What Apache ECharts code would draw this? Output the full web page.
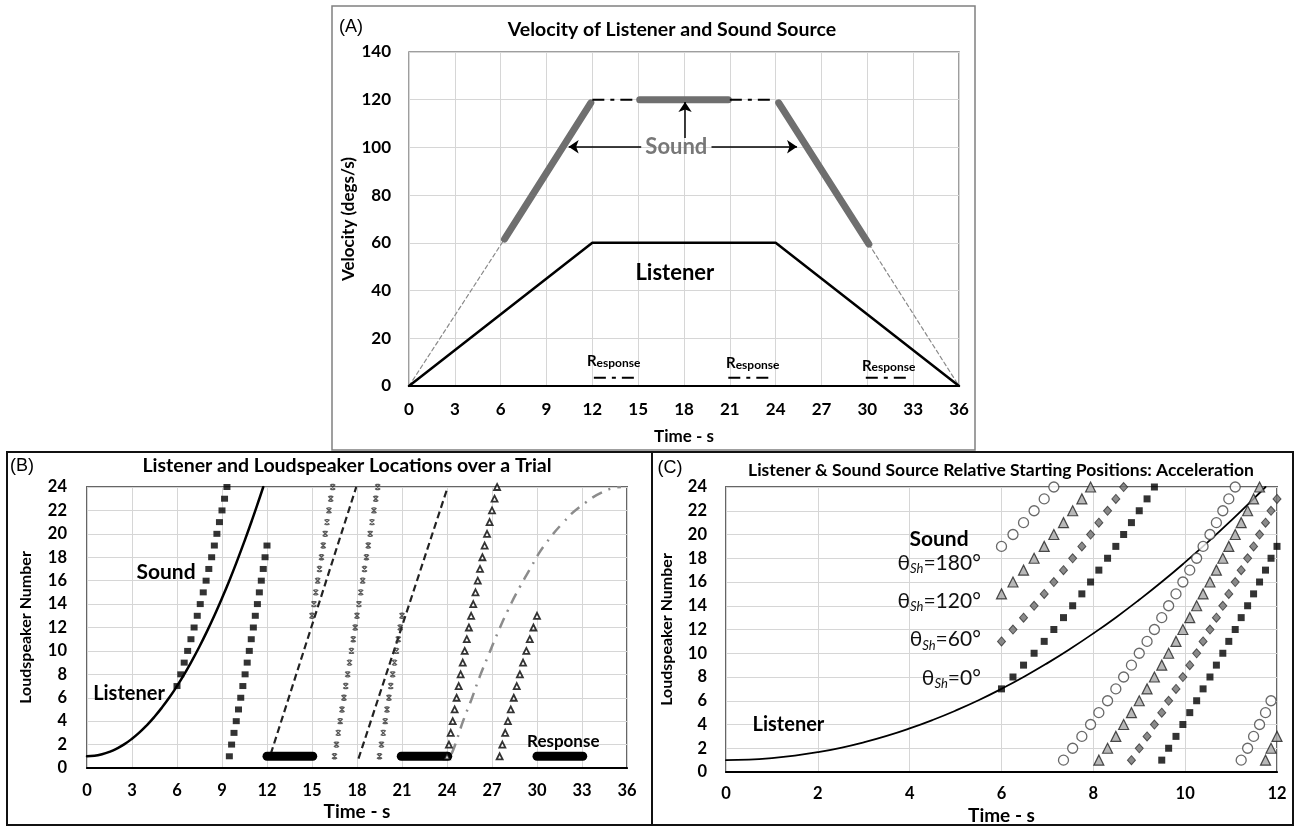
<!DOCTYPE html>
<html><head><meta charset="utf-8">
<script src="https://cdn.jsdelivr.net/npm/echarts@6/dist/echarts.min.js"></script>
<style>html,body{margin:0;padding:0;background:#fff}#c{width:1295px;height:826px}</style>
</head><body><div id="c"></div>
<script>
// ================= DATA =================
// ---- Panel A : velocity (degs/s) vs time (s) ----
const listenerA_t = [0, 12, 24, 36];
const listenerA_v = [0, 60, 60, 0];
const soundRiseThin_t = [0, 6.25];    const soundRiseThin_v = [0, 61.6];
const soundRise_t = [6.25, 11.9];     const soundRise_v = [61.6, 118.7];
const soundLead_t = [12, 15];         const soundLead_v = [120, 120];
const soundTop_t = [15.1, 20.9];      const soundTop_v = [120, 120];
const soundTrail_t = [21, 24];        const soundTrail_v = [120, 120];
const soundFall_t = [24.2, 30.1];     const soundFall_v = [118.7, 59.5];
const soundFallThin_t = [30.1, 36];   const soundFallThin_v = [59.5, 0];
const responseA_start = [12.1, 20.9, 29.9];
const responseA_end = [15.1, 23.9, 32.9];
const responseA_level = 3.5;

// ---- Panels B & C : loudspeaker number vs time (s) ----
const listenerCurve_t = [0,0.5,1,1.5,2,2.5,3,3.5,4,4.5,5,5.5,6,6.5,7,7.5,8,8.5,9,9.5,10,10.5,11,11.5,11.75];
const listenerCurve_s = [1,1.04,1.17,1.38,1.67,2.04,2.5,3.04,3.67,4.38,5.17,6.04,7,8.04,9.17,10.38,11.67,13.04,14.5,16.04,17.67,19.38,21.17,23.04,24];
const listenerConst1_t = [12.25, 17.95]; const listenerConst1_s = [1.2, 24];
const listenerConst2_t = [18.1, 24.05];  const listenerConst2_s = [0.8, 24];
const listenerDecel_t = [24.3,24.52,25.07,25.63,26.18,26.8,27.4,28.07,28.85,29.67,30.0,30.6,31.7,32.95,34.6,35.6];
const listenerDecel_s = [1.2,1.9,4.0,5.85,7.8,9.75,11.6,13.5,15.45,17.3,18.07,19.2,20.9,22.4,23.7,24];
const responseB_start = [12, 20.95, 30];
const responseB_end = [15.05, 24.05, 33.05];
const responseB_level = 1;

// sound (accelerating, theta 0) squares: times for consecutive speakers
const sq1_first = 7;  const sq1_t = [6.00,6.25,6.48,6.71,6.93,7.14,7.35,7.55,7.75,7.94,8.12,8.31,8.49,8.66,8.83,9.00,9.17,9.33];
const sq2_first = 1;  const sq2_t = [9.49,9.64,9.80,9.95,10.10,10.25,10.39,10.54,10.68,10.82,10.95,11.09,11.22,11.36,11.49,11.62,11.75,11.87,12.00];
// sound constant velocity (x marks)
const xm1_first = 13; const xm1_t = [15.00,15.13,15.25,15.38,15.50,15.63,15.75,15.88,16.00,16.13,16.25,16.38];
const xm2_first = 1;  const xm2_t = [16.50,16.63,16.75,16.88,17.00,17.13,17.25,17.38,17.50,17.63,17.75,17.88,18.00,18.13,18.25,18.38,18.50,18.63,18.75,18.88,19.00,19.13,19.25,19.38];
const xm3_first = 1;  const xm3_t = [19.50,19.63,19.75,19.88,20.00,20.13,20.25,20.38,20.50,20.63,20.75,20.88,21.00];
// sound decelerating (open triangles)
const tb1_first = 1;  const tb1_t = [24.00,24.13,24.25,24.38,24.51,24.64,24.78,24.91,25.05,25.18,25.32,25.46,25.61,25.75,25.90,26.05,26.20,26.36,26.51,26.67,26.84,27.00,27.17,27.34];
const tb2_first = 1;  const tb2_t = [27.51,27.69,27.88,28.06,28.25,28.45,28.65,28.86,29.07,29.29,29.52,29.76,30.00];

// Panel C : starting positions 180 / 120 / 60 / 0 deg
const ci1_first = 19; const ci1_t = [6.00,6.25,6.48,6.71,6.93,7.14];
const ci2_first = 1;  const ci2_t = [7.35,7.55,7.75,7.94,8.12,8.31,8.49,8.66,8.83,9.00,9.17,9.33,9.49,9.64,9.80,9.95,10.10,10.25,10.39,10.54,10.68,10.82,10.95,11.09];
const ci3_first = 1;  const ci3_t = [11.22,11.36,11.49,11.62,11.75,11.87];
const tr1_first = 15; const tr1_t = [6.00,6.25,6.48,6.71,6.93,7.14,7.35,7.55,7.75,7.94];
const tr2_first = 1;  const tr2_t = [8.12,8.31,8.49,8.66,8.83,9.00,9.17,9.33,9.49,9.64,9.80,9.95,10.10,10.25,10.39,10.54,10.68,10.82,10.95,11.09,11.22,11.36,11.49,11.62];
const tr3_first = 1;  const tr3_t = [11.75,11.87,12.00];
const di1_first = 11; const di1_t = [6.00,6.25,6.48,6.71,6.93,7.14,7.35,7.55,7.75,7.94,8.12,8.31,8.49,8.66];
const di2_first = 1;  const di2_t = [8.83,9.00,9.17,9.33,9.49,9.64,9.80,9.95,10.10,10.25,10.39,10.54,10.68,10.82,10.95,11.09,11.22,11.36,11.49,11.62,11.75,11.87,12.00];

// ================= CHART =================
const FONT = 'Lato, "Open Sans", sans-serif';
const zip = (xs, ys) => xs.map((x, i) => [x, ys[i]]);
const col = (ts, first) => ts.map((t, i) => [t, first + i]);

function line(g, data, color, width, type, extra) {
  return Object.assign({type:'line', xAxisIndex:g, yAxisIndex:g, data, symbol:'none', silent:true,
    animation:false, lineStyle:{color, width, type, cap:'round'}}, extra || {});
}
function scat(g, data, symbol, size, style, z) {
  return {type:'scatter', xAxisIndex:g, yAxisIndex:g, data, symbol, symbolSize:size, itemStyle:style,
    silent:true, animation:false, clip:false, z: z || 3};
}
function labels(g, items) {
  return {type:'scatter', xAxisIndex:g, yAxisIndex:g, symbolSize:1, silent:true, animation:false, clip:false, z:6,
    itemStyle:{color:'rgba(255,255,255,0)'},
    data: items.map(it => ({value:[it.x, it.y], label:Object.assign({show:true, position:[0.5,0.5],
      align:'center', verticalAlign:'middle', fontFamily:FONT, color:'#000', fontWeight:'bold',
      textBorderWidth:0, opacity:1}, it.label)}))};
}
function xAx(g, max, interval, name, gap, margin, nameSize, labelSize) {
  return {type:'value', gridIndex:g, min:0, max, interval, name, nameLocation:'middle', nameGap:gap,
    nameTextStyle:{fontFamily:FONT, fontWeight:'bold', fontSize:nameSize, color:'#000'},
    axisLine:{show:true, onZero:false, lineStyle:{color:'#000', width:2}}, axisTick:{show:false},
    axisLabel:{fontFamily:FONT, fontWeight:'bold', fontSize:labelSize, color:'#000', margin},
    splitLine:{show:true, lineStyle:{color:'#d6d6d6', width:1}}};
}
function yAx(g, max, interval, name, gap, margin, nameSize, labelSize) {
  return {type:'value', gridIndex:g, min:0, max, interval, name, nameLocation:'middle', nameGap:gap, nameRotate:90,
    nameTextStyle:{fontFamily:FONT, fontWeight:'bold', fontSize:nameSize, color:'#000'},
    axisLine:{show:false}, axisTick:{show:false},
    axisLabel:{fontFamily:FONT, fontWeight:'bold', fontSize:labelSize, color:'#000', margin},
    splitLine:{show:true, lineStyle:{color:'#d6d6d6', width:1}}};
}

const respRich = {r:{fontFamily:FONT, fontWeight:'bold', fontSize:15, color:'#000', verticalAlign:'bottom'},
                  e:{fontFamily:FONT, fontWeight:'bold', fontSize:12, color:'#000', verticalAlign:'bottom'}};
const thRich = {a:{fontFamily:FONT, fontWeight:'normal', fontSize:21, color:'#111', lineHeight:22},
                b:{fontFamily:FONT, fontWeight:'normal', fontSize:13, fontStyle:'italic', color:'#111', lineHeight:14, padding:[12,0,0,0]}};

const series = [];
// ---- A ----
series.push(line(0, zip(soundRiseThin_t, soundRiseThin_v), '#8a8a8a', 1.2, [4,3]));
series.push(line(0, zip(soundFallThin_t, soundFallThin_v), '#8a8a8a', 1.2, [4,3]));
series.push(line(0, zip(listenerA_t, listenerA_v), '#000', 2.5, 'solid'));
series.push(line(0, zip(soundRise_t, soundRise_v), '#6f6f6f', 7, 'solid'));
series.push(line(0, zip(soundTop_t, soundTop_v), '#6f6f6f', 7, 'solid'));
series.push(line(0, zip(soundFall_t, soundFall_v), '#6f6f6f', 7, 'solid'));
const dd = {color:'#000', width:2, type:[12,6,4,6], cap:'butt'};
series.push(line(0, zip(soundLead_t, soundLead_v), '#000', 2, 'solid', {lineStyle:dd}));
series.push(line(0, zip(soundTrail_t, soundTrail_v), '#000', 2, 'solid', {lineStyle:dd}));
responseA_start.forEach((s, i) => series.push(line(0, [[s, responseA_level], [responseA_end[i], responseA_level]], '#000', 2, 'solid', {lineStyle:dd})));
series.push({type:'line', xAxisIndex:0, yAxisIndex:0, data:[], silent:true, animation:false,
  markLine:{silent:true, animation:false, symbol:['none','arrow'], symbolSize:10, label:{show:false},
    lineStyle:{color:'#000', width:1.5, type:'solid'}, itemStyle:{color:'#000'},
    data:[[{coord:[15.2,100.3]},{coord:[10.45,100.3]}],
          [{coord:[19.8,100.3]},{coord:[25.4,100.3]}],
          [{coord:[18.07,104]},{coord:[18.07,119]}]]}});
series.push(labels(0, [
  {x:17.5, y:100.3, label:{formatter:'Sound', fontSize:22, color:'#777'}},
  {x:17.4, y:47.4, label:{formatter:'Listener', fontSize:22}},
  {x:13.4, y:10.4, label:{formatter:'{r|R}{e|esponse}', rich:respRich}},
  {x:22.5, y:9.5, label:{formatter:'{r|R}{e|esponse}', rich:respRich}},
  {x:31.4, y:8.4, label:{formatter:'{r|R}{e|esponse}', rich:respRich}}
]));

// ---- B ----
series.push(line(1, zip(listenerCurve_t, listenerCurve_s), '#000', 2.5, 'solid', {smooth:true}));
const dsh = {color:'#222', width:2.2, type:[7,4], cap:'butt'};
series.push(line(1, zip(listenerConst1_t, listenerConst1_s), '#222', 2.2, 'solid', {lineStyle:dsh}));
series.push(line(1, zip(listenerConst2_t, listenerConst2_s), '#222', 2.2, 'solid', {lineStyle:dsh}));
series.push(line(1, zip(listenerDecel_t, listenerDecel_s), '#8c8c8c', 2.5, 'solid', {smooth:true, lineStyle:{color:'#8c8c8c', width:2.5, type:[11,7,2,7], cap:'butt'}}));
responseB_start.forEach((s, i) => series.push(line(1, [[s, responseB_level], [responseB_end[i], responseB_level]], '#000', 9, 'solid')));
const sqStyle = {color:'#000'};
series.push(scat(1, col(sq1_t, sq1_first), 'rect', [7,6], sqStyle));
series.push(scat(1, col(sq2_t, sq2_first), 'rect', [7,6], sqStyle));
const X_SYM = 'path://M0,0L10,10M10,0L0,10M2,0L8,0M2,10L8,10';
const xStyle = {color:'#333', borderColor:'#333', borderWidth:1.4};
series.push(scat(1, col(xm1_t, xm1_first), X_SYM, 5, xStyle));
series.push(scat(1, col(xm2_t, xm2_first), X_SYM, 5, xStyle));
series.push(scat(1, col(xm3_t, xm3_first), X_SYM, 5, xStyle));
const tbStyle = {color:'#fff', borderColor:'#000', borderWidth:1.8};
series.push(scat(1, col(tb1_t, tb1_first), 'triangle', 6, tbStyle, 4));
series.push(scat(1, col(tb2_t, tb2_first), 'triangle', 6, tbStyle, 4));
series.push(labels(1, [
  {x:5.27, y:16.75, label:{formatter:'Sound', fontSize:21}},
  {x:2.8, y:6.4, label:{formatter:'Listener', fontSize:20}},
  {x:31.75, y:2.27, label:{formatter:'Response', fontSize:17}}
]));

// ---- C ----
series.push(line(2, zip(listenerCurve_t, listenerCurve_s), '#000', 1.8, 'solid', {smooth:true}));
const ciStyle = {color:'#fff', borderColor:'#444', borderWidth:1.3};
const trStyle = {color:'#a6a6a6', borderColor:'#222', borderWidth:1.2};
const diStyle = {color:'#6e6e6e', borderColor:'#333', borderWidth:1};
series.push(scat(2, col(ci1_t, ci1_first), 'circle', 10, ciStyle));
series.push(scat(2, col(ci2_t, ci2_first), 'circle', 10, ciStyle));
series.push(scat(2, col(ci3_t, ci3_first), 'circle', 10, ciStyle));
series.push(scat(2, col(tr1_t, tr1_first), 'triangle', 10, trStyle));
series.push(scat(2, col(tr2_t, tr2_first), 'triangle', 10, trStyle));
series.push(scat(2, col(tr3_t, tr3_first), 'triangle', 10, trStyle));
series.push(scat(2, col(di1_t, di1_first), 'diamond', [8,9], diStyle));
series.push(scat(2, col(di2_t, di2_first), 'diamond', [8,9], diStyle));
series.push(scat(2, col(sq1_t, sq1_first), 'rect', 7, sqStyle, 4));
series.push(scat(2, col(sq2_t, sq2_first), 'rect', 7, sqStyle, 4));
series.push(labels(2, [
  {x:4.64, y:19.6, label:{formatter:'Sound', fontSize:21}},
  {x:5.55, y:17.6, label:{formatter:'{a|θ}{b|Sh}{a|=180°}', rich:thRich, align:'right'}},
  {x:5.55, y:14.4, label:{formatter:'{a|θ}{b|Sh}{a|=120°}', rich:thRich, align:'right'}},
  {x:5.55, y:11.15, label:{formatter:'{a|θ}{b|Sh}{a|=60°}', rich:thRich, align:'right'}},
  {x:5.55, y:7.9, label:{formatter:'{a|θ}{b|Sh}{a|=0°}', rich:thRich, align:'right'}},
  {x:1.36, y:4.0, label:{formatter:'Listener', fontSize:20}}
]));

function txt(x, y, text, font, color) {
  return {type:'text', x, y, silent:true, z:10,
    style:{text, font, fill:color || '#000', textAlign:'center', textVerticalAlign:'middle', align:'center', verticalAlign:'middle'}};
}
function box(x, y, w, h, stroke, lw) {
  return {type:'rect', silent:true, z:0, shape:{x, y, width:w, height:h}, style:{fill:'none', stroke, lineWidth:lw}};
}

const option = {
  backgroundColor:'#fff',
  animation:false,
  grid:[
    {left:409, top:52, width:550, height:334, show:true, borderColor:'#7f7f7f', borderWidth:1.5},
    {left:87, top:487, width:540, height:281, show:true, borderColor:'#666', borderWidth:2},
    {left:726, top:487, width:551, height:286, show:true, borderColor:'#666', borderWidth:2}
  ],
  xAxis:[xAx(0, 36, 3, 'Time - s', 42, 15, 17, 17), xAx(1, 36, 3, 'Time - s', 34, 14, 19, 16.5), xAx(2, 12, 2, 'Time - s', 34, 13, 19, 16.5)],
  yAxis:[yAx(0, 140, 20, 'Velocity (degs/s)', 52, 18, 17, 17), yAx(1, 24, 2, 'Loudspeaker Number', 53, 20, 16, 16.5), yAx(2, 24, 2, 'Loudspeaker Number', 51, 19, 16, 16.5)],
  graphic:[
    box(332, 6, 643, 444, '#808080', 1.5),
    box(7, 452, 645, 373, '#111', 2),
    box(652, 452, 641, 373, '#111', 2),
    txt(351, 27, '(A)', '18px "Liberation Sans", Arial, sans-serif'),
    txt(22, 466, '(B)', '18px "Liberation Sans", Arial, sans-serif'),
    txt(670, 468, '(C)', '18px "Liberation Sans", Arial, sans-serif'),
    txt(672, 30, 'Velocity of Listener and Sound Source', 'bold 19.5px ' + FONT),
    txt(347, 466, 'Listener and Loudspeaker Locations over a Trial', 'bold 19.5px ' + FONT),
    txt(1001, 470, 'Listener & Sound Source Relative Starting Positions: Acceleration', 'bold 17.5px ' + FONT)
  ],
  series
};
const chart = echarts.init(document.getElementById('c'));
chart.setOption(option);
</script></body></html>
